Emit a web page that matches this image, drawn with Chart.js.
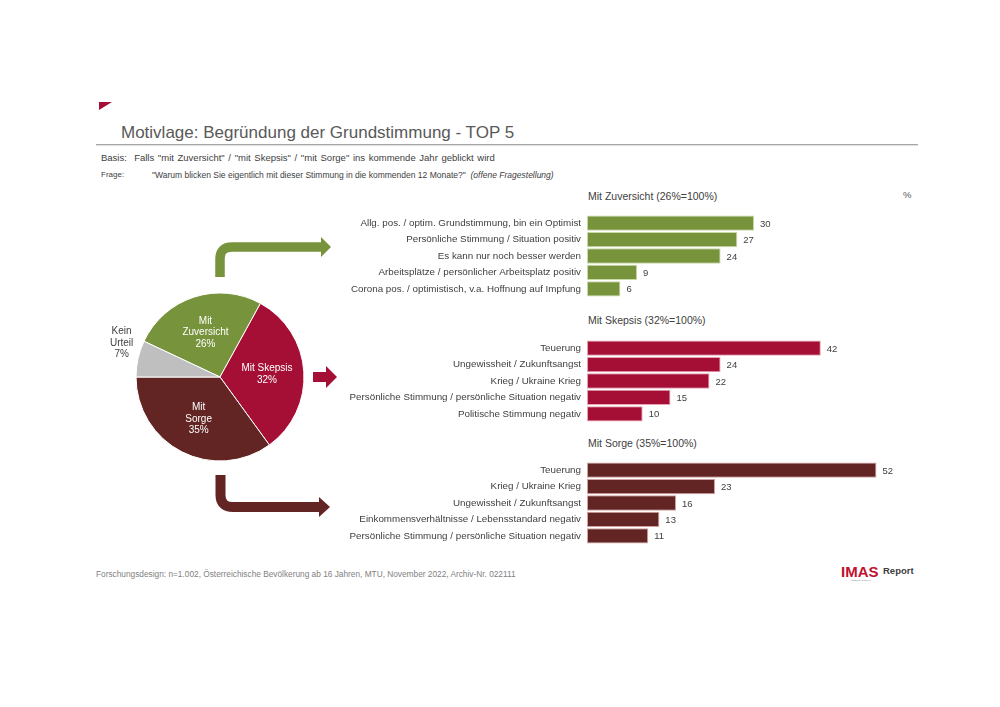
<!DOCTYPE html>
<html lang="de">
<head>
  <meta charset="UTF-8" />
  <title>Motivlage: Begründung der Grundstimmung - TOP 5</title>
  <script src="https://cdn.jsdelivr.net/npm/chart.js"></script>
  <style>
    body {
      margin: 0;
      width: 1000px;
      height: 707px;
      background: #ffffff;
      font-family: "Liberation Sans", Arial, sans-serif;
      color: #404040;
      position: relative;
      overflow: hidden;
    }
    .abs { position: absolute; white-space: nowrap; }
    .title { left: 121px; top: 123px; font-size: 17px; color: #595959; }
    .rule { left: 96px; top: 144px; width: 822px; height: 1px; background: #a6a6a6; box-shadow: 0 1px 1px #d9d9d9; }
    .basis { left: 101px; top: 152px; font-size: 9.5px; word-spacing: 1px; }
    .frage { left: 101px; top: 170px; font-size: 8px; }
    .frage-text { left: 152px; top: 170px; font-size: 8.5px; }
    .sub { font-size: 10.5px; color: #404040; }
    .pct { left: 903px; top: 189px; font-size: 9.5px; color: #595959; }
    .footer { left: 96px; top: 569px; font-size: 8.3px; color: #7f7f7f; }
    canvas { position: absolute; }
  </style>
</head>
<body>
  <svg class="abs" style="left:0;top:0" width="1000" height="707">
    <polygon points="99,102 112,102 99,110" fill="#a50f35"/>
    <!-- Pfeil oben (Zuversicht) -->
    <path d="M220,277 V259 Q220,247 232,247 H322" fill="none" stroke="#77933c" stroke-width="9.5"/>
    <polygon points="321,237 331,247 321,257" fill="#77933c"/>
    <!-- Pfeil Mitte (Skepsis) -->
    <rect x="313" y="372" width="14" height="10" fill="#a50f35"/>
    <polygon points="326,366 337,377 326,388" fill="#a50f35"/>
    <!-- Pfeil unten (Sorge) -->
    <path d="M220.5,475 V495 Q220.5,507 233,507 H320" fill="none" stroke="#632523" stroke-width="10"/>
    <polygon points="319,497 330,507 319,517" fill="#632523"/>
    <!-- Logo -->
    <text x="841" y="577" font-family="Liberation Sans, Arial" font-weight="bold" font-size="15" fill="#c0112f">IMAS</text>
    <text x="883" y="574" font-family="Liberation Sans, Arial" font-weight="bold" font-size="9.5" fill="#404040">Report</text>
    <text x="851" y="581" font-family="Liberation Sans, Arial" font-size="2.5" fill="#808080">INTERNATIONAL</text>
  </svg>

  <div class="abs title">Motivlage: Begründung der Grundstimmung - TOP 5</div>
  <div class="abs rule"></div>
  <div class="abs basis">Basis:&nbsp; Falls "mit Zuversicht" / "mit Skepsis" / "mit Sorge" ins kommende Jahr geblickt wird</div>
  <div class="abs frage">Frage:</div>
  <div class="abs frage-text">"Warum blicken Sie eigentlich mit dieser Stimmung in die kommenden 12 Monate?" &nbsp;<i>(offene Fragestellung)</i></div>

  <div class="abs sub" style="left:588px;top:190px">Mit Zuversicht (26%=100%)</div>
  <div class="abs pct">%</div>
  <div class="abs sub" style="left:588px;top:314px">Mit Skepsis (32%=100%)</div>
  <div class="abs sub" style="left:588px;top:437px">Mit Sorge (35%=100%)</div>

  <canvas id="pie" width="240" height="214" style="left:100px;top:270px"></canvas>
  <canvas id="barZuv" width="581" height="82" style="left:340px;top:215px"></canvas>
  <canvas id="barSkep" width="581" height="82" style="left:340px;top:340px"></canvas>
  <canvas id="barSorge" width="581" height="82" style="left:340px;top:462px"></canvas>

  <div class="abs footer">Forschungsdesign: n=1.002, Österreichische Bevölkerung ab 16 Jahren, MTU, November 2022, Archiv-Nr. 022111</div>

  <script>
    // Kreisdiagramm: Grundstimmung
    const pieLabels = [['Mit', 'Zuversicht'], ['Mit Skepsis'], ['Mit', 'Sorge'], ['Kein', 'Urteil']];
    const pieValues = [26, 32, 35, 7];
    const pieColors = ['#77933c', '#a50f35', '#632523', '#bfbfbf'];

    // Mit Zuversicht
    const zuvLabels = [
      'Allg. pos. / optim. Grundstimmung, bin ein Optimist',
      'Persönliche Stimmung / Situation positiv',
      'Es kann nur noch besser werden',
      'Arbeitsplätze / persönlicher Arbeitsplatz positiv',
      'Corona pos. / optimistisch, v.a. Hoffnung auf Impfung'
    ];
    const zuvValues = [30, 27, 24, 9, 6];

    // Mit Skepsis
    const skepLabels = [
      'Teuerung',
      'Ungewissheit / Zukunftsangst',
      'Krieg / Ukraine Krieg',
      'Persönliche Stimmung / persönliche Situation negativ',
      'Politische Stimmung negativ'
    ];
    const skepValues = [42, 24, 22, 15, 10];

    // Mit Sorge
    const sorgeLabels = [
      'Teuerung',
      'Krieg / Ukraine Krieg',
      'Ungewissheit / Zukunftsangst',
      'Einkommensverhältnisse / Lebensstandard negativ',
      'Persönliche Stimmung / persönliche Situation negativ'
    ];
    const sorgeValues = [52, 23, 16, 13, 11];

    const FONT = '"Liberation Sans", Arial, sans-serif';

    // Beschriftung der Kreissegmente
    const pieLabelPlugin = {
      id: 'pieLabels',
      afterDatasetsDraw(chart) {
        const ctx = chart.ctx;
        const meta = chart.getDatasetMeta(0);
        ctx.save();
        ctx.font = '10px ' + FONT;
        ctx.textAlign = 'center';
        ctx.textBaseline = 'middle';
        meta.data.forEach((arc, i) => {
          const mid = (arc.startAngle + arc.endAngle) / 2;
          const outside = pieValues[i] < 10;
          const r = outside ? arc.outerRadius * 1.2 : arc.outerRadius * 0.56;
          const x = arc.x + Math.cos(mid) * r;
          const y = arc.y + Math.sin(mid) * r - (outside ? 12 : 0);
          const lines = pieLabels[i].concat([pieValues[i] + '%']);
          ctx.fillStyle = outside ? '#404040' : '#ffffff';
          const lh = 11.5;
          lines.forEach((t, k) => {
            ctx.fillText(t, x, y + (k - (lines.length - 1) / 2) * lh);
          });
        });
        ctx.restore();
      }
    };

    new Chart(document.getElementById('pie'), {
      type: 'pie',
      data: {
        labels: pieLabels.map(l => l.join(' ')),
        datasets: [{
          data: pieValues,
          backgroundColor: pieColors,
          borderColor: '#ffffff',
          borderWidth: 1,
          radius: 84
        }]
      },
      options: {
        responsive: false,
        animation: false,
        rotation: -64.8,
        plugins: { legend: { display: false }, tooltip: { enabled: false } }
      },
      plugins: [pieLabelPlugin]
    });

    // Werte rechts neben den Balken
    const valueLabelPlugin = {
      id: 'valueLabels',
      afterDatasetsDraw(chart) {
        const ctx = chart.ctx;
        const meta = chart.getDatasetMeta(0);
        const values = chart.data.datasets[0].data;
        ctx.save();
        ctx.font = '9.5px ' + FONT;
        ctx.fillStyle = '#404040';
        ctx.textAlign = 'left';
        ctx.textBaseline = 'middle';
        meta.data.forEach((bar, i) => {
          ctx.fillText(values[i], bar.x + 6, bar.y + 1);
        });
        ctx.restore();
      }
    };

    function barChart(id, labels, values, color, border) {
      return new Chart(document.getElementById(id), {
        type: 'bar',
        data: {
          labels: labels,
          datasets: [{
            data: values,
            backgroundColor: color,
            borderColor: border,
            borderWidth: 1,
            borderSkipped: false,
            categoryPercentage: 1,
            barPercentage: 0.93
          }]
        },
        options: {
          indexAxis: 'y',
          responsive: false,
          animation: false,
          layout: { padding: 0 },
          scales: {
            x: { display: false, min: 0, max: 60 },
            y: {
              grid: { display: false, drawTicks: false },
              border: { display: false },
              ticks: { color: '#404040', font: { size: 9.8, family: FONT }, padding: 6, autoSkip: false },
              afterFit(axis) { axis.width = 247; axis.paddingTop = 0; axis.paddingBottom = 0; }
            }
          },
          plugins: { legend: { display: false }, tooltip: { enabled: false } }
        },
        plugins: [valueLabelPlugin]
      });
    }

    barChart('barZuv', zuvLabels, zuvValues, '#77933c', '#c9d9a6');
    barChart('barSkep', skepLabels, skepValues, '#a50f35', '#e7a3b4');
    barChart('barSorge', sorgeLabels, sorgeValues, '#632523', '#d2a3a0');
  </script>
</body>
</html>
